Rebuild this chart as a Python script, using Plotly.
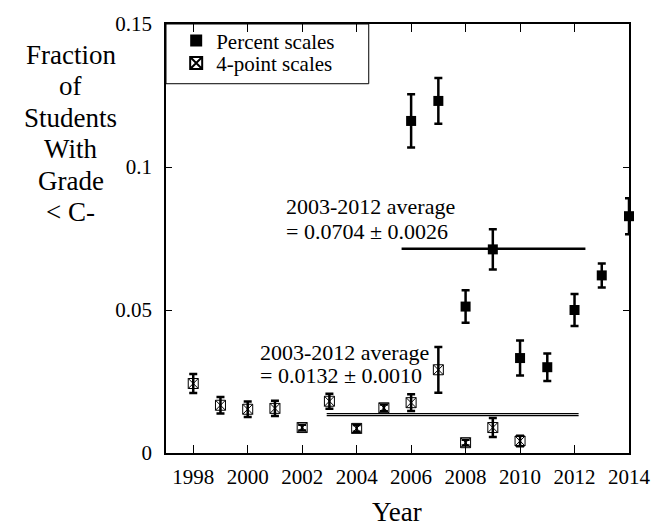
import plotly.graph_objects as go

# ---- data ----
pct_years = [2006, 2007, 2008, 2009, 2010, 2011, 2012, 2013, 2014]
pct_vals = [0.1161, 0.1231, 0.0512, 0.0712, 0.0332, 0.0300, 0.0500, 0.0621, 0.0828]
pct_err = [0.0093, 0.0080, 0.0057, 0.0070, 0.0061, 0.0048, 0.0056, 0.0042, 0.0063]

pt4_years = [1998, 1999, 2000, 2001, 2002, 2003, 2004, 2005, 2006, 2007, 2008, 2009, 2010]
pt4_vals = [0.0243, 0.0167, 0.0153, 0.0156, 0.0089, 0.0181, 0.0086, 0.0158, 0.0176, 0.0291, 0.0036, 0.0089, 0.0042]
pt4_err = [0.0033, 0.0029, 0.0027, 0.0027, 0.0010, 0.0026, 0.0012, 0.0012, 0.0029, 0.0080, 0.0010, 0.0033, 0.0018]

pct_avg_x = [2005.65, 2012.4]
pct_avg_y = 0.0714
pt4_avg_x = [2002.9, 2012.15]
pt4_avg_y = [0.0138, 0.0131]

x_ticks = [1998, 2000, 2002, 2004, 2006, 2008, 2010, 2012, 2014]
y_ticks = [0, 0.05, 0.1, 0.15]
y_ticktext = ["0", "0.05", "0.1", "0.15"]
y_title_lines = ["Fraction", "of", "Students", "With", "Grade", "< C-"]

FONT = "Liberation Serif"

fig = go.Figure()

# average lines
fig.add_trace(go.Scatter(x=pct_avg_x, y=[pct_avg_y] * 2, mode="lines",
                         line=dict(color="black", width=2.5), showlegend=False, hoverinfo="skip"))
for yv in pt4_avg_y:
    fig.add_trace(go.Scatter(x=pt4_avg_x, y=[yv] * 2, mode="lines",
                             line=dict(color="black", width=1.2), showlegend=False, hoverinfo="skip"))

fig.add_trace(go.Scatter(
    x=pct_years, y=pct_vals, mode="markers", name="Percent scales", legend="legend",
    marker=dict(symbol="square", size=10, color="black"), cliponaxis=False,
    error_y=dict(type="data", array=pct_err, color="black", thickness=2.5, width=4),
))
fig.add_trace(go.Scatter(
    x=pt4_years, y=pt4_vals, mode="markers", name="4-point scales", legend="legend2",
    marker=dict(symbol="square-x-open", size=10, color="black", line=dict(width=1)),
    cliponaxis=False,
    error_y=dict(type="data", array=pt4_err, color="black", thickness=2.5, width=4),
))

annotations = []
def add_text(x, y, text, size, xanchor="left", xref="x", yref="y"):
    annotations.append(dict(x=x, y=y, xref=xref, yref=yref, text=text, showarrow=False,
                            xanchor=xanchor, yanchor="middle",
                            font=dict(family=FONT, size=size, color="black")))

add_text(2001.33, 0.0862, "2003-2012 average", 22)
add_text(2001.33, 0.0776, "= 0.0704 ± 0.0026", 22)
add_text(2000.36, 0.0351, "2003-2012 average", 22)
add_text(2000.36, 0.0271, "= 0.0132 ± 0.0010", 22)

# y-axis title lines
for i, line in enumerate(y_title_lines):
    ypix = 53 + i * 31.6
    add_text(-0.206, (453 - ypix) / 431, line, 27, xanchor="center", xref="paper", yref="paper")

# x-axis title
add_text(0.499, (453 - 512) / 431, "Year", 27, xanchor="center", xref="paper", yref="paper")

leg_common = dict(xanchor="left", yanchor="middle", borderwidth=0, bgcolor="rgba(0,0,0,0)",
                  font=dict(family=FONT, size=21, color="black"), itemsizing="constant")

fig.update_layout(
    width=663, height=527,
    margin=dict(l=166, r=22, t=22, b=74),
    plot_bgcolor="white", paper_bgcolor="white",
    font=dict(family=FONT, size=21, color="black"),
    annotations=annotations,
    legend=dict(x=0.022, y=(453 - 39.0) / 431, **leg_common),
    legend2=dict(x=0.022, y=(453 - 61.5) / 431, **leg_common),
    shapes=[dict(type="rect", xref="paper", yref="paper", x0=0, x1=(374 - 166) / 475,
                 y0=(453 - 82) / 431, y1=1, line=dict(color="black", width=1))],
    xaxis=dict(range=[1997, 2014], tickvals=x_ticks, ticks="inside", ticklen=8,
               tickcolor="black", tickwidth=1, showline=True, linecolor="black", linewidth=1.5,
               mirror="allticks", showgrid=False, zeroline=False,
               tickfont=dict(family=FONT, size=21), ticklabelstandoff=4),
    yaxis=dict(range=[0, 0.15], tickvals=y_ticks, ticktext=y_ticktext, ticks="inside", ticklen=6,
               tickcolor="black", tickwidth=1, showline=True, linecolor="black", linewidth=1.5,
               mirror="allticks", showgrid=False, zeroline=False,
               tickfont=dict(family=FONT, size=21), ticklabelstandoff=8),
)

fig.write_html("out.html", config={"displayModeBar": False},
               post_script="document.body.style.margin='0';document.body.style.overflow='hidden';")
